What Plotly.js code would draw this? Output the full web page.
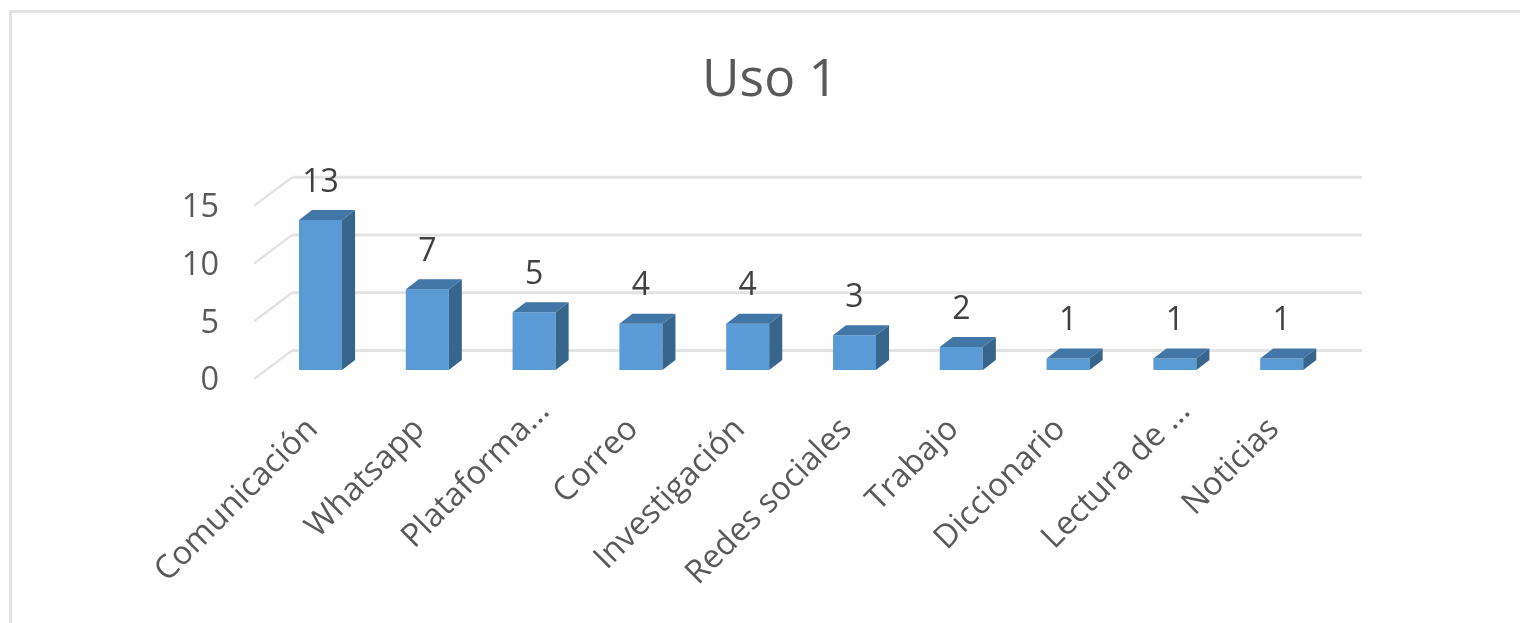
<!DOCTYPE html>
<html><head><meta charset="utf-8">
<script src="https://cdn.plot.ly/plotly-3.0.1.min.js"></script>
<style>
html,body{margin:0;padding:0;background:#fff;overflow:hidden}
#frame{position:absolute;left:9px;top:10px;right:-5px;bottom:-5px;border-left:3px solid #E2E2E2;border-top:3px solid #E2E2E2;filter:blur(0.6px)}
#chart{position:absolute;left:0;top:0;width:1520px;height:623px;filter:blur(0.6px)}
</style></head><body>
<div id="frame"></div><div id="chart"></div>
<script>
const chartTitle = "Uso 1";
const categories = ["Comunicación","Whatsapp","Plataforma...","Correo","Investigación","Redes sociales","Trabajo","Diccionario","Lectura de ...","Noticias"];
const values = [13,7,5,4,4,3,2,1,1,1];
const yTicks = [0,5,10,15];

const FONT = "Open Sans, sans-serif";
const barWidth = 0.403, floorBase = 0.78, barDepthX = 0.122, barDepthY = 0.866;
const wallDepthY = 2.47, wallStartX = -0.266, xMin = -0.6227, xMax = 9.752;
const labelShift = 0.0485;
const NBSP3 = "\u00A0\u00A0\u00A0";

const positions = categories.map((_, i) => i);
const sideX = [], sideY = [], topX = [], topY = [];
positions.forEach((p, i) => {
  const r = p + barWidth / 2, l = p - barWidth / 2, t = floorBase + values[i];
  sideX.push(r, r + barDepthX, r + barDepthX, r, r, null);
  sideY.push(floorBase, floorBase + barDepthY, t + barDepthY, t, floorBase, null);
  topX.push(l, l + barDepthX, r + barDepthX, r, l, null);
  topY.push(t, t + barDepthY, t + barDepthY, t, t, null);
});

const traces = [
  {type:"bar", x:positions, y:values, base:floorBase, width:barWidth, cliponaxis:false,
   marker:{color:"#5B9BD5", line:{width:0}}, hoverinfo:"skip"},
  {type:"scatter", mode:"lines", x:sideX, y:sideY, fill:"toself", fillcolor:"#38658C", cliponaxis:false,
   line:{width:0, color:"#38658C"}, hoverinfo:"skip"},
  {type:"scatter", mode:"lines", x:topX, y:topY, fill:"toself", fillcolor:"#4276A6", cliponaxis:false,
   line:{width:0, color:"#4276A6"}, hoverinfo:"skip"},
  {type:"scatter", mode:"text", x:positions, y:values.map(v => v + floorBase + barDepthY + 0.9),
   text:values.map(String), textposition:"top center", cliponaxis:false,
   textfont:{family:FONT, size:32, color:"#404040"}, hoverinfo:"skip"}
];

const gridShapes = [];
yTicks.forEach(v => {
  gridShapes.push({type:"line", layer:"below", xref:"x", yref:"y", x0:wallStartX, x1:xMax, y0:v+wallDepthY, y1:v+wallDepthY, line:{color:"#E3E3E3", width:3}});
  gridShapes.push({type:"line", layer:"below", xref:"x", yref:"y", x0:xMin, x1:wallStartX, y0:v, y1:v+wallDepthY, line:{color:"#E3E3E3", width:2.5}});
});

const layout = {
  width:1520, height:623, showlegend:false,
  paper_bgcolor:"rgba(0,0,0,0)", plot_bgcolor:"rgba(0,0,0,0)",
  margin:{l:254, r:158, t:170, b:242, pad:0},
  title:{text:chartTitle, x:770/1520, xanchor:"center", y:1-78/623, yanchor:"middle",
         font:{family:FONT, size:51.5, color:"#595959"}},
  xaxis:{type:"linear", range:[xMin,xMax], tickmode:"array", tickvals:positions.map(p => p + labelShift),
         ticktext:categories.map(c => c.endsWith("...") ? c : c + NBSP3),
         tickangle:-45, showgrid:false, zeroline:false, showline:false, ticks:"", automargin:false, ticklabelstandoff:3,
         tickfont:{family:FONT, size:32.5, color:"#595959"}},
  yaxis:{type:"linear", range:[-0.173,18.1], tickmode:"array", tickvals:yTicks, showgrid:false,
         zeroline:false, showline:false, ticks:"", ticklabelstandoff:34, automargin:false,
         tickfont:{family:FONT, size:32.5, color:"#595959"}},
  shapes:gridShapes
};
Plotly.newPlot("chart", traces, layout, {displayModeBar:false, staticPlot:true});
</script></body></html>
